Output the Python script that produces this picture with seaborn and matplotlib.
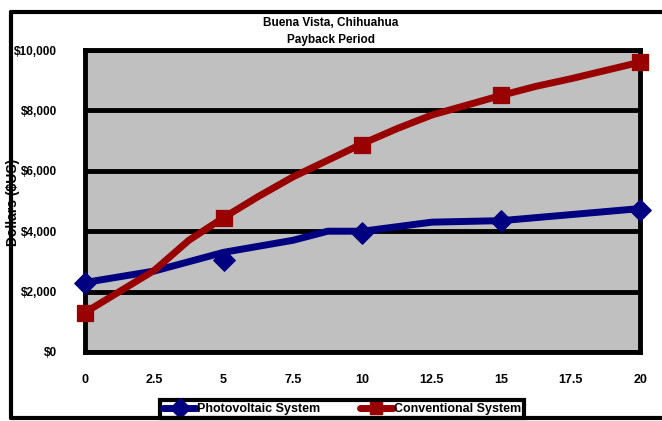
# Buena Vista, Chihuahua - payback period, PV vs conventional
import pandas as pd
import seaborn as sns
import matplotlib.pyplot as plt
from matplotlib.lines import Line2D
from matplotlib.ticker import FuncFormatter

# line vertices (years, dollars)
pv_years = [0, 2.5, 5, 7.5, 8.75, 10, 11.25, 12.5, 15, 17.5, 20]
pv_cost = [2300, 2680, 3300, 3700, 4000, 4000, 4150, 4300, 4350, 4550, 4750]
conv_years = [0, 2.5, 3.75, 5, 6.25, 7.5, 10, 11.25, 12.5, 15, 16.25, 17.5, 20]
conv_cost = [1300, 2700, 3700, 4450, 5150, 5800, 6900, 7400, 7850, 8500, 8800, 9050, 9600]

# marker positions
mark_years = [0, 5, 10, 15, 20]
pv_marks = [2300, 3050, 3950, 4350, 4700]
conv_marks = [1300, 4450, 6850, 8500, 9600]

x_ticks = [0, 2.5, 5, 7.5, 10, 12.5, 15, 17.5, 20]
x_tick_labels = ['0', '2.5', '5', '7.5', '10', '12.5', '15', '17.5', '20']
y_ticks = [0, 2000, 4000, 6000, 8000, 10000]

blue = '#000080'
red = '#990000'

sns.set_theme(style='white', rc={'axes.facecolor': '#C0C0C0',
                                 'text.color': 'black',
                                 'xtick.color': 'black',
                                 'ytick.color': 'black',
                                 'axes.labelcolor': 'black'})
plt.rcParams['font.family'] = ['Liberation Sans', 'DejaVu Sans']
plt.rcParams['font.weight'] = 'bold'

pv = pd.DataFrame({'Year': pv_years, 'Dollars': pv_cost})
conv = pd.DataFrame({'Year': conv_years, 'Dollars': conv_cost})
marks = pd.DataFrame({'Year': mark_years, 'PV': pv_marks, 'Conv': conv_marks})

fig = plt.figure(figsize=(6.62, 4.21), dpi=100)
ax = fig.add_axes([0.128, 0.164, 0.839, 0.717])

sns.lineplot(x='Year', y='Dollars', data=pv, ax=ax, color=blue, lw=5,
             sort=False, zorder=3)
sns.scatterplot(x='Year', y='PV', data=marks, ax=ax, color=blue, marker='D',
                s=120, edgecolor=blue, zorder=4, clip_on=False)
sns.lineplot(x='Year', y='Dollars', data=conv, ax=ax, color=red, lw=5,
             sort=False, zorder=5)
sns.scatterplot(x='Year', y='Conv', data=marks, ax=ax, color=red, marker='s',
                s=130, edgecolor=red, zorder=6, clip_on=False)

ax.set_xlim(0, 20)
ax.set_ylim(0, 10000)
ax.set_xticks(x_ticks)
ax.set_xticklabels(x_tick_labels)
ax.set_yticks(y_ticks)
ax.yaxis.set_major_formatter(FuncFormatter(lambda v, p: '${:,.0f}'.format(v)))
ax.yaxis.grid(True, color='black', lw=3.5)
ax.set_axisbelow(True)
for s in ax.spines.values():
    s.set_color('black')
    s.set_linewidth(3.5)
ax.tick_params(axis='both', which='both', direction='out', length=6, width=3.5,
               color='black')
ax.tick_params(axis='y', pad=14, labelsize=8.5)
ax.tick_params(axis='x', pad=10, labelsize=9)
for lab in ax.get_xticklabels() + ax.get_yticklabels():
    lab.set_fontweight('bold')

ax.set_xlabel('')
ax.set_ylabel('')
fig.text(0.019, 0.52, 'Dollars ($US)', rotation=90, ha='center', va='center',
         fontsize=10, fontweight='bold')

fig.text(0.5, 0.945, 'Buena Vista, Chihuahua', ha='center', va='center',
         fontsize=8.5, fontweight='bold')
fig.text(0.5, 0.904, 'Payback Period', ha='center', va='center',
         fontsize=8.5, fontweight='bold')

handles = [
    Line2D([], [], color=blue, lw=5, marker='D', markersize=10),
    Line2D([], [], color=red, lw=5, marker='s', markersize=9),
]
leg = fig.legend(handles, ['Photovoltaic System', 'Conventional System'],
                 loc='upper left', bbox_to_anchor=(0.242, 0.05), ncol=2,
                 frameon=True, fancybox=False, fontsize=9, handlelength=2.6,
                 handletextpad=0.1, columnspacing=3.2, borderpad=0.25,
                 borderaxespad=0)
leg.get_frame().set_edgecolor('black')
leg.get_frame().set_facecolor('white')
leg.get_frame().set_alpha(1)
leg.get_frame().set_linewidth(3)
for t in leg.get_texts():
    t.set_fontweight('bold')

# outer chart frame: left, top and bottom edges
frame_kw = dict(transform=fig.transFigure, color='black', lw=3, zorder=10)
fig.add_artist(Line2D([0.016, 0.016], [0.007, 0.972], **frame_kw))
fig.add_artist(Line2D([0.016, 1.0], [0.972, 0.972], **frame_kw))
fig.add_artist(Line2D([0.016, 1.0], [0.007, 0.007], **frame_kw))

plt.savefig('out.png', dpi=100)
